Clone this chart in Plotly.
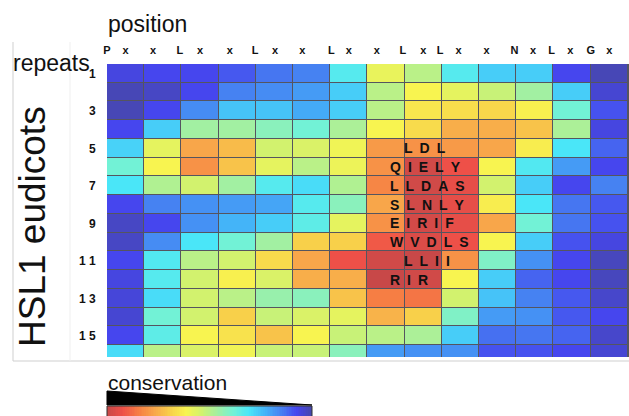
import numpy as np
import plotly.graph_objects as go

# ---------------- data ----------------
columns = list(range(14))
repeats = list(range(1, 17))

# conservation level per cell (0 = least conserved, 13 = most conserved)
conservation = [
    [0.8, 1.0, 1.0, 1.3, 1.8, 2.0, 4.3, 7.6, 6.5, 4.3, 3.5, 3.5, 1.0, 0.2],
    [0.2, 0.4, 1.0, 2.0, 2.2, 2.5, 3.5, 6.5, 8.0, 7.5, 6.8, 6.0, 3.5, 0.6],
    [0.2, 1.0, 2.2, 3.3, 3.3, 2.8, 3.5, 6.5, 8.4, 8.6, 8.8, 8.1, 5.0, 1.2],
    [1.0, 3.5, 6.0, 6.0, 5.5, 5.0, 6.2, 8.0, 8.7, 9.8, 9.8, 9.3, 6.2, 0.8],
    [3.6, 7.5, 10.0, 9.5, 7.0, 7.2, 7.8, 10.3, 10.5, 10.3, 10.0, 8.2, 4.0, 1.5],
    [5.0, 8.0, 10.5, 9.3, 7.5, 6.5, 7.7, 10.5, 12.8, 12.0, 8.0, 4.2, 2.5, 1.0],
    [4.0, 6.3, 7.0, 6.0, 4.3, 3.8, 6.3, 10.8, 12.8, 12.2, 7.0, 3.5, 1.0, 2.0],
    [1.0, 2.0, 2.3, 2.5, 2.7, 4.3, 5.5, 10.0, 12.8, 12.2, 8.2, 4.0, 1.8, 1.3],
    [0.4, 1.0, 2.3, 3.0, 3.5, 4.5, 7.5, 10.5, 12.7, 12.2, 10.0, 5.0, 1.8, 1.2],
    [0.4, 2.2, 4.0, 5.0, 6.0, 9.0, 9.0, 11.8, 12.5, 12.0, 8.0, 3.5, 1.2, 0.8],
    [1.0, 4.2, 6.5, 7.0, 8.7, 10.0, 12.0, 12.8, 13.0, 10.5, 5.3, 2.3, 1.0, 0.3],
    [0.8, 4.3, 7.0, 8.1, 7.2, 9.8, 9.8, 13.0, 12.8, 8.0, 3.5, 1.5, 1.0, 0.3],
    [0.7, 3.8, 7.0, 6.5, 5.8, 5.5, 9.3, 11.0, 11.2, 7.0, 3.3, 2.0, 1.3, 0.5],
    [0.6, 5.0, 7.0, 9.0, 6.8, 7.2, 7.5, 9.7, 9.0, 5.3, 2.5, 2.3, 1.3, 1.0],
    [1.0, 4.5, 8.0, 8.5, 9.3, 8.0, 6.8, 6.5, 6.2, 3.5, 1.7, 1.8, 1.5, 0.5],
    [3.8, 6.5, 7.2, 7.8, 6.8, 6.8, 5.5, 2.5, 2.3, 2.3, 1.2, 1.2, 1.0, 0.6],
]

position_labels = ["P", "x", "x", "L", "x", "x", "L", "x", "x", "L", "x", "x",
                   "L", "x", "L", "x", "x", "N", "x", "L", "x", "G", "x"]
position_ticks = [-0.5, 0.0, 0.74, 1.46, 2.0, 2.8, 3.48, 4.02, 4.75, 5.53, 6.0, 6.75,
                  7.45, 8.0, 8.45, 8.95, 9.7, 10.45, 10.95, 11.45, 11.95, 12.5, 13.0]

repeat_ticks = [1, 3, 5, 7, 9, 11, 13, 15]
repeat_labels = ["1", "3", "5", "7", "9", "1 1", "1 3", "1 5"]

motif_repeats = [5, 6, 7, 8, 9, 10, 11, 12]
motifs = [" LDL", "QIELY", "LLDAS", "SLNLY", "EIRIF", "WVDLS", " LLII", "RIR"]
motif_start = 7.05

# ---------------- styling ----------------
level_colors = ["#4747a8", "#4646ee", "#4682f2", "#44b4f8", "#4ae6f8", "#72f2d6", "#a2f0a2",
                "#d2f26e", "#f8f450", "#f8d04a", "#f8a64a", "#f67e44", "#ee5048", "#c84848"]
colorscale = [[i / (len(level_colors) - 1), c] for i, c in enumerate(level_colors)]

W, H = 629, 416
px = lambda v: v / W
py = lambda v: (H - v) / H

fig = go.Figure()
fig.add_trace(go.Heatmap(
    z=conservation, x=columns, y=repeats, colorscale=colorscale, zmin=0, zmax=13,
    xgap=1, ygap=1, showscale=False, hoverinfo="skip"))

# legend gradient (high conservation on left)
legend_levels = np.linspace(13, 0, 120)
fig.add_trace(go.Heatmap(
    z=[legend_levels], x=np.linspace(0, 1, 120), y=[0], colorscale=colorscale,
    zmin=0, zmax=13, showscale=False, xaxis="x2", yaxis="y2", hoverinfo="skip"))

bold = dict(family="Liberation Sans", size=11, color="#111")
fig.update_layout(
    width=W, height=H, margin=dict(l=0, r=0, t=0, b=0, autoexpand=False),
    paper_bgcolor="white", plot_bgcolor="#55555f",
    xaxis=dict(domain=[px(107), 1.0], range=[-0.5, 13.53], side="top", automargin=False,
               tickvals=position_ticks, ticktext=["<b>%s</b>" % t for t in position_labels],
               tickfont=bold, ticks="outside", ticklen=5, tickcolor="rgba(0,0,0,0)",
               showgrid=False, zeroline=False, showline=False),
    yaxis=dict(domain=[py(357), py(64)], range=[16.13, 0.5], automargin=False,
               tickvals=repeat_ticks, ticktext=["<b>%s</b>" % t for t in repeat_labels],
               tickfont=dict(family="Liberation Sans", size=12, color="#111"),
               ticks="outside", ticklen=8, tickcolor="rgba(0,0,0,0)",
               showgrid=False, zeroline=False, showline=False),
    xaxis2=dict(domain=[px(107), px(312)], range=[0, 1], visible=False, anchor="y2",
                automargin=False),
    yaxis2=dict(domain=[0, py(406)], range=[-0.5, 0.5], visible=False, anchor="x2",
                automargin=False),
)

ann = []
ann.append(dict(text="position", x=px(106), y=py(24), xref="paper", yref="paper",
                xanchor="left", yanchor="middle", showarrow=False,
                font=dict(family="Liberation Sans", size=23, color="#111")))
ann.append(dict(text="repeats", x=px(11), y=py(63), xref="paper", yref="paper",
                xanchor="left", yanchor="middle", showarrow=False,
                font=dict(family="Liberation Sans", size=23, color="#111")))
ann.append(dict(text="HSL1 eudicots", x=px(33), y=py(227), xref="paper", yref="paper",
                xanchor="center", yanchor="middle", textangle=-90, showarrow=False,
                font=dict(family="Liberation Sans", size=37, color="#111")))
ann.append(dict(text="conservation", x=px(106), y=py(382), xref="paper", yref="paper",
                xanchor="left", yanchor="middle", showarrow=False,
                font=dict(family="Liberation Sans", size=21, color="#111")))
for r, m in zip(motif_repeats, motifs):
    spaced = "\u2002".join(list(m)).replace(" ", "\u2002")
    ann.append(dict(text="<b>%s</b>" % spaced,
                    x=motif_start, y=r, xref="x", yref="y", xanchor="left", yanchor="middle",
                    showarrow=False, font=dict(family="Liberation Sans", size=14, color="#111")))
fig.update_layout(annotations=ann)

shapes = [
    dict(type="path", xref="paper", yref="paper",
         path="M %f %f L %f %f L %f %f Z" % (px(107), py(391), px(312), py(405), px(107), py(405)),
         fillcolor="black", line=dict(color="black", width=1)),
    dict(type="rect", xref="paper", yref="paper", x0=px(107), x1=px(312), y0=py(417), y1=py(406),
         line=dict(color="#333", width=1)),
    dict(type="line", xref="paper", yref="paper", x0=px(13), x1=px(13), y0=py(42), y1=py(361),
         line=dict(color="#cfcfcf", width=1)),
    dict(type="line", xref="paper", yref="paper", x0=px(13), x1=1, y0=py(361), y1=py(361),
         line=dict(color="#cfcfcf", width=1)),
    dict(type="line", xref="paper", yref="paper", x0=px(70), x1=px(70), y0=py(42), y1=py(361),
         line=dict(color="#efefef", width=1)),
]
fig.update_layout(shapes=shapes)

fig.write_html("out.html", config={"displayModeBar": False},
               post_script="document.body.style.margin='0px';")
